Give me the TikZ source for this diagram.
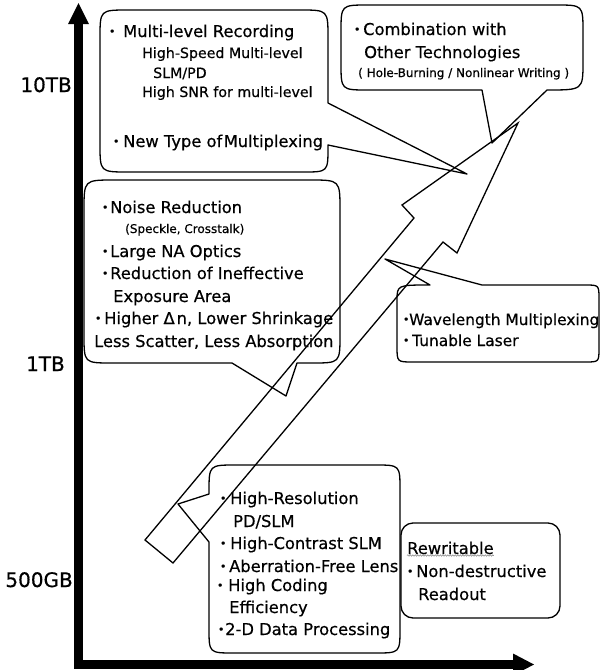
\documentclass[tikz,border=0pt]{standalone}
\usepackage{fontspec}
\setmainfont[FakeBold=0.5]{DejaVu Sans}
\usetikzlibrary{decorations.pathmorphing}
\newcommand\bl[1]{\llap{\makebox[0pt][c]{\raisebox{1.8pt}{\fontsize{11}{11}\selectfont •}}\hspace{#1}}}
\newcommand\mainsz{\fontsize{16.3}{19}\selectfont}
\newcommand\wavsz{\fontsize{15.4}{19}\selectfont}
\newcommand\subsz{\fontsize{14.2}{17}\selectfont}
\newcommand\smallsz{\fontsize{12}{14}\selectfont}
\newcommand\labsz{\fontsize{20}{24}\selectfont}
\begin{document}
\begin{tikzpicture}[x=1pt,y=-1pt,
  txt/.style={anchor=base west,inner sep=0pt,font=\mainsz},
  sub/.style={txt,font=\subsz},
  small/.style={txt,font=\smallsz},
  wav/.style={txt,font=\wavsz},
  lab/.style={anchor=base east,inner sep=0pt,font=\labsz},
  callout/.style={draw,line width=1.3pt,line join=round},
  bigarrow/.style={draw,line width=1.3pt,line join=miter},
  axisbar/.style={line width=9pt},
  axishead/.style={fill=black}]
\useasboundingbox (0,0) rectangle (600,670);
% axes
\coordinate (ybot) at (78.5,668.5);
\coordinate (ytop) at (78.5,24);
\coordinate (xleft) at (74,664);
\coordinate (xright) at (513,664);
\draw[axisbar] (ybot) -- (ytop);
\draw[axisbar] (xleft) -- (xright);
\fill[axishead] (68,24) -- (78.5,3) -- (89,24) -- cycle;
\fill[axishead] (513,653.5) -- (534,664.5) -- (513,675.5) -- cycle;
\node[lab] (l10) at (72,92) {10TB};
\node[lab] (l1) at (65,371) {1TB};
\node[lab] (l500) at (73,587) {500GB};
% callout 1
\draw[callout] (328,103) -- (467,174) -- (328,145) -- (328,147) .. controls (328,172) .. (303,172) -- (128,172) .. controls (100,172) .. (100,144) -- (100,38) .. controls (100,10) .. (128,10) -- (300,10) .. controls (328,10) .. (328,38) -- cycle;
% callout 2
\draw[callout] (482,90) -- (492,143) -- (547,90) .. controls (583,90) .. (583,62) -- (583,32) .. controls (583,5) .. (556,5) -- (368,5) .. controls (341,5) .. (341,32) -- (341,63) .. controls (341,90) .. (368,90) -- cycle;
% callout 3
\draw[callout] (232,363) -- (286,396) -- (297,363) -- (312,363) .. controls (340,363) .. (340,335) -- (340,210) .. controls (340,180) .. (310,180) -- (114,180) .. controls (84,180) .. (84,210) -- (84,335) .. controls (84,363) .. (112,363) -- cycle;
% callout 4
\draw[callout] (430,285) -- (385,259) -- (482,285) -- (585,285) .. controls (599,285) .. (599,299) -- (599,348) .. controls (599,362) .. (585,362) -- (413,362) .. controls (397,362) .. (397,346) -- (397,301) .. controls (397,285) .. (430,285) -- cycle;
% callout 5
\draw[callout] (209,494) -- (178,504) -- (209,542) -- (209,628) .. controls (209,653) .. (234,653) -- (375,653) .. controls (400,653) .. (400,628) -- (400,490) .. controls (400,465) .. (375,465) -- (236,465) .. controls (209,465) .. (209,492) -- cycle;
% callout 6
\draw[callout,rounded corners=12pt] (401,523) rectangle (560,618);
% big hollow arrow
\draw[bigarrow] (145,540) -- (414,218) -- (402,205) -- (518,123) -- (457,253) -- (443,242) -- (173,563) -- cycle;
% texts callout 1
\node[txt] (c1a) at (123,37) {\bl{11pt}Multi-level Recording};
\node[sub] (c1b) at (142,58) {High-Speed Multi-level};
\node[sub] (c1c) at (153,78) {SLM/PD};
\node[sub] (c1d) at (142,97) {High SNR for multi-level};
\node[txt] (c1e) at (123,147) {\bl{7pt}New Type of\kern1.5pt Multiplexing};
% callout 2
\node[txt] (c2a) at (363,35) {\bl{6pt}Combination with};
\node[txt] (c2b) at (364,58) {Other Technologies};
\node[small] (c2c) at (358,77) {( Hole-Burning / Nonlinear Writing )};
% callout 3
\node[txt] (c3a) at (110,213) {\bl{5pt}Noise Reduction};
\node[small] (c3b) at (125,233) {(Speckle, Crosstalk)};
\node[txt] (c3c) at (110,257) {\bl{5pt}Large NA Optics};
\node[txt] (c3d) at (110,279) {\bl{5pt}Reduction of Ineffective};
\node[txt] (c3e) at (113,302) {Exposure Area};
\node[txt] (c3f) at (104,324) {\bl{6pt}Higher Δ\kern2pt n, Lower Shrinkage};
\node[txt] (c3g) at (94,347) {Less Scatter, Less Absorption};
% callout 4
\node[wav] (c4a) at (409,325) {\bl{3pt}Wavelength Multiplexing};
\node[wav] (c4b) at (412,346) {\bl{6pt}Tunable Laser};
% callout 5
\node[txt] (c5a) at (230,504) {\bl{7pt}High-Resolution};
\node[txt] (c5b) at (233,527) {PD/SLM};
\node[txt] (c5c) at (230,549) {\bl{7pt}High-Contrast SLM};
\node[txt] (c5d) at (229,572) {\bl{6pt}Aberration-Free Lens};
\node[txt] (c5e) at (228,591) {\bl{8pt}High Coding};
\node[txt] (c5f) at (229,613) {Efficiency};
\node[txt] (c5g) at (225,635) {\bl{4pt}2-D Data Processing};
% callout 6
\node[txt] (c6a) at (407,554) {Rewritable};
\draw[gray,line width=0.5pt,decorate,decoration={snake,amplitude=0.7pt,segment length=2.5pt}] ([yshift=-1.5pt]c6a.base west) -- ([yshift=-1.5pt]c6a.base east);
\node[txt] (c6b) at (416,577) {\bl{6pt}Non-destructive};
\node[txt] (c6c) at (418,600) {Readout};
\end{tikzpicture}
\end{document}
